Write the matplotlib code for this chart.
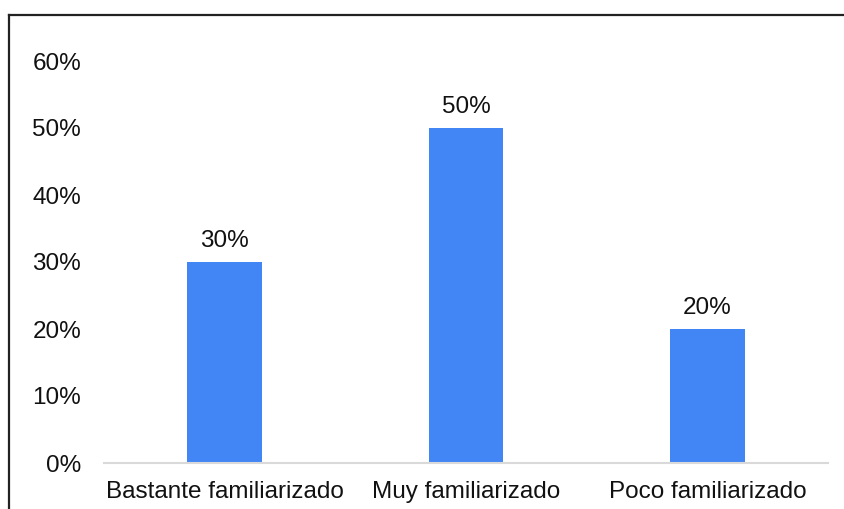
import matplotlib
matplotlib.use("Agg")
import matplotlib.pyplot as plt
from matplotlib.lines import Line2D
from matplotlib.ticker import FuncFormatter

categories = ["Bastante familiarizado", "Muy familiarizado", "Poco familiarizado"]
values = [0.30, 0.50, 0.20]
yticks = [0.0, 0.1, 0.2, 0.3, 0.4, 0.5, 0.6]

plt.rcParams["font.family"] = ["Liberation Sans", "DejaVu Sans"]

W, H = 844, 509
fig = plt.figure(figsize=(W / 100, H / 100), dpi=100)
ax = fig.add_axes([104 / W, 1 - 463 / H, (828 - 104) / W, (463 - 61) / H])

x = range(len(categories))
bars = ax.bar(x, values, width=0.31, color="#4285F4", zorder=2)
for b, v in zip(bars, values):
    ax.annotate(f"{v:.0%}", (b.get_x() + b.get_width() / 2, v),
                xytext=(0, 7.5), textcoords="offset points",
                ha="center", va="bottom", fontsize=17.5, color="#111111")

ax.set_xlim(-0.5, len(categories) - 0.5)
ax.set_ylim(0, 0.6)
ax.set_yticks(yticks)
ax.yaxis.set_major_formatter(FuncFormatter(lambda v, _: f"{v:.0%}"))
ax.set_xticks(list(x))
ax.set_xticklabels(categories)
ax.tick_params(axis="both", length=0, labelsize=17.5, colors="#111111")
ax.tick_params(axis="y", pad=16.5)
ax.tick_params(axis="x", pad=13)

for side in ("top", "right", "left"):
    ax.spines[side].set_visible(False)
ax.spines["bottom"].set_color("#d9d9d9")
ax.spines["bottom"].set_linewidth(1.5)

# frame lines around the figure
fig.add_artist(Line2D([8.5 / W, 8.5 / W], [0, 1 - 14.5 / H], color="#222222",
                      lw=1.6, transform=fig.transFigure))
fig.add_artist(Line2D([8.5 / W, 1], [1 - 14.5 / H, 1 - 14.5 / H], color="#222222",
                      lw=1.6, transform=fig.transFigure))

fig.savefig("out.png", dpi=100)
